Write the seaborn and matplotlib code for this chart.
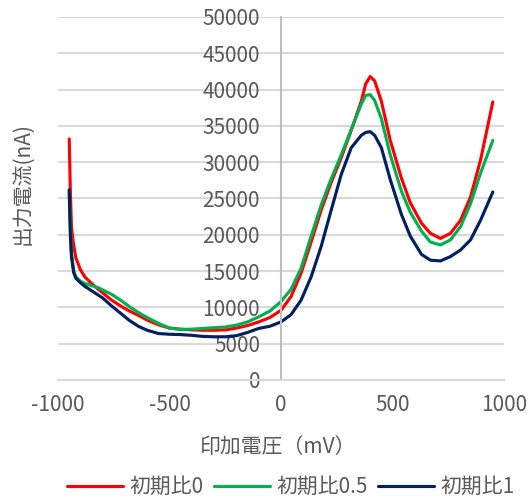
import numpy as np
import pandas as pd
import seaborn as sns
import matplotlib.pyplot as plt

# --- data ---
voltage = [-950, -945, -940, -930, -920, -900, -880, -850, -820, -800,
           -760, -720, -680, -640, -600, -550, -500, -450, -400, -350,
           -300, -250, -200, -150, -100, -50, 0, 45, 90, 135,
           180, 225, 270, 315, 360, 380, 400, 420, 450, 490,
           540, 580, 630, 670, 715, 760, 805, 850, 895, 950]

ratio_0 = [33200, 26000, 21000, 18500, 16800, 15200, 14200, 13300, 12500, 12000,
           11000, 10200, 9500, 8900, 8250, 7600, 7150, 7000, 6900, 6850,
           6850, 6900, 7150, 7500, 8000, 8600, 9600, 11500, 14700, 19000,
           23400, 27200, 30600, 34400, 38400, 40800, 41800, 41200, 38400, 33000,
           27800, 24400, 21600, 20200, 19500, 20200, 22000, 25200, 30300, 38300]

ratio_05 = [26000, 21000, 17500, 15000, 14200, 13600, 13300, 13000, 12700, 12400,
            11800, 11000, 10100, 9300, 8600, 7800, 7150, 6950, 7000, 7100,
            7200, 7300, 7550, 8000, 8700, 9500, 10800, 12500, 15400, 19800,
            24100, 27700, 31000, 34500, 38000, 39200, 39300, 38500, 36000, 31000,
            26000, 23100, 20500, 19000, 18600, 19300, 21100, 24300, 28500, 33000]

ratio_1 = [26200, 20000, 17000, 14800, 14000, 13400, 12900, 12300, 11700, 11300,
           10200, 9200, 8200, 7400, 6850, 6400, 6300, 6250, 6150, 6000,
           5950, 5950, 6100, 6550, 7100, 7400, 8000, 9000, 11000, 14200,
           18400, 23400, 28300, 32000, 33700, 34100, 34200, 33700, 32000, 27600,
           22800, 19800, 17300, 16500, 16400, 17000, 17900, 19300, 22000, 25900]

series_names = ["初期比0", "初期比0.5", "初期比1"]
series_colors = ["#FF0000", "#00B050", "#002060"]

df = pd.concat([
    pd.DataFrame({"電圧": voltage, "電流": vals, "系列": name})
    for name, vals in zip(series_names, [ratio_0, ratio_05, ratio_1])
])

sns.set_style("white")
plt.rcParams["font.family"] = ["Noto Sans CJK JP", "DejaVu Sans"]
plt.rcParams["axes.unicode_minus"] = False
text_color = "#595959"

fig = plt.figure(figsize=(5.28, 4.99), dpi=100)
ax = fig.add_axes([0.110, 0.2385, 0.8445, 0.7275])

sns.lineplot(data=df, x="電圧", y="電流", hue="系列", hue_order=series_names,
             palette=series_colors, sort=False, linewidth=2.25, ax=ax)

ax.set_xlim(-1000, 1000)
ax.set_ylim(0, 50000)
ax.set_xticks(np.arange(-1000, 1001, 500))
ax.set_yticks(np.arange(0, 50001, 5000))
ax.yaxis.grid(True, color="#D9D9D9", linewidth=1.5)
ax.xaxis.grid(False)
ax.set_axisbelow(True)

# vertical axis crosses at x = 0, like Excel
for side in ["top", "right"]:
    ax.spines[side].set_visible(False)
ax.spines["left"].set_position(("data", 0))
ax.spines["left"].set_color("#BFBFBF")
ax.spines["left"].set_linewidth(1.5)
ax.spines["bottom"].set_color("#D9D9D9")
ax.spines["bottom"].set_linewidth(1.5)

ax.tick_params(axis="y", length=0, pad=15, labelsize=15, labelcolor=text_color)
ax.tick_params(axis="x", length=0, pad=10, labelsize=15, labelcolor=text_color)

ax.set_xlabel("")
ax.set_ylabel("")
fig.text(0.527, 0.104, "印加電圧（mV）", ha="center", va="center",
         fontsize=15, color=text_color)
fig.text(0.042, 0.632, "出力電流(nA)", ha="center", va="center",
         rotation=90, fontsize=15, color=text_color)

handles, labels = ax.get_legend_handles_labels()
ax.get_legend().remove()
fig.legend(handles, labels, loc="center", bbox_to_anchor=(0.551, 0.024),
           ncol=3, frameon=False, fontsize=15, labelcolor=text_color,
           handlelength=2.7, handletextpad=0.3, columnspacing=0.5)

plt.savefig("out.png", dpi=100)
